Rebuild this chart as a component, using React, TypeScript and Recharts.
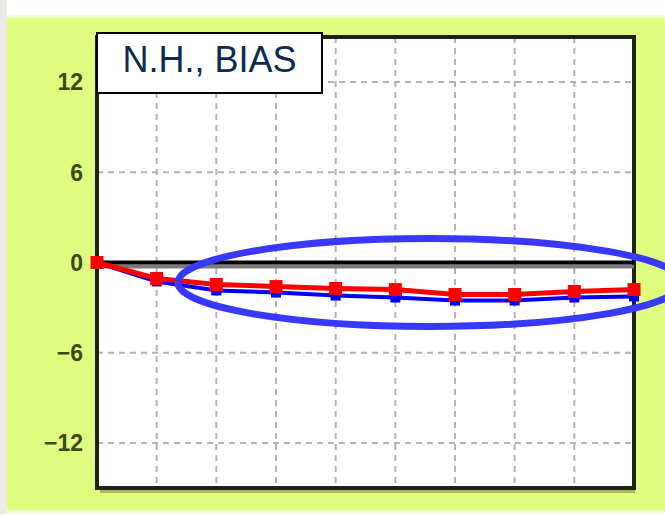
import * as React from 'react'
import { LineChart, Line, XAxis, YAxis, CartesianGrid, ReferenceLine, ReferenceArea, ReferenceDot } from 'recharts'

// forecast step (x) and bias values
const steps = [0, 1, 2, 3, 4, 5, 6, 7, 8, 9]
const redBias = [0, -1.06, -1.46, -1.6, -1.73, -1.8, -2.13, -2.13, -1.93, -1.8]
const blueBias = [0, -1.26, -1.86, -2.0, -2.2, -2.33, -2.53, -2.53, -2.33, -2.26]
const yTicks = [-12, -6, 0, 6, 12]
const panelTitle = 'N.H., BIAS'
const highlightCenter = { x: 5.58, y: -1.33 }

const data = steps.map((s, i) => ({ step: s, red: redBias[i], blue: blueBias[i] }))

const squareDot = (size: number, color: string) => (props: any) => {
  const { cx, cy, index } = props
  if (cx == null || cy == null) return <g key={index} />
  return <rect key={index} x={cx - size / 2} y={cy - size / 2} width={size} height={size} fill={color} />
}

const fmt = (v: number) => (v < 0 ? `\u2212${Math.abs(v)}` : `${v}`)

const YTick = (props: any) => {
  const { x, y, payload } = props
  return (
    <text
      x={x}
      y={y}
      dy="0.36em"
      textAnchor="end"
      fill="#3a4a12"
      fontSize={23}
      fontWeight="bold"
      fontFamily="'Liberation Sans', Arial, sans-serif"
    >
      {fmt(payload.value)}
    </text>
  )
}

// vertical grid at every step, placed through the plot offset
const verticalGrid = ({ offset }: any) =>
  steps.map((s) => offset.left + (s / steps[steps.length - 1]) * offset.width)

export default function App() {
  return (
    <div style={{ position: 'absolute', left: 0, top: 0, width: 665, height: 514, background: '#ecebe3', overflow: 'hidden' }}>
      <div style={{ position: 'absolute', left: 7, top: 0, width: 658, height: 15, background: '#ffffff' }} />
      <div style={{ position: 'absolute', left: 7, top: 15, width: 658, height: 3, background: '#f4fbd2' }} />
      <div style={{ position: 'absolute', left: 7, top: 18, width: 658, height: 492, background: '#e0fd7f' }} />
      <div style={{ position: 'absolute', left: 7, top: 510, width: 658, height: 4, background: '#f6fbe0' }} />
      {/* shadow under the plot frame */}
      <div style={{ position: 'absolute', left: 100, top: 489, width: 535, height: 4, background: '#a6b85c' }} />

      <div style={{ position: 'absolute', left: 0, top: 0 }}>
        <LineChart width={665} height={514} data={data} margin={{ top: 37, right: 31, bottom: 26, left: 7 }}>
          <CartesianGrid
            fill="#ffffff"
            fillOpacity={1}
            stroke="#b3b3b3"
            strokeWidth={2}
            strokeDasharray="6 5"
            verticalCoordinatesGenerator={verticalGrid}
          />
          <XAxis
            dataKey="step"
            type="number"
            domain={[0, 9]}
            ticks={steps}
            height={0}
            tick={false}
            tickLine={false}
            axisLine={false}
          />
          <YAxis
            type="number"
            domain={[-15, 15]}
            ticks={yTicks}
            width={90}
            tickSize={0}
            tickMargin={14}
            axisLine={false}
            tickLine={false}
            tick={<YTick />}
          />
          <ReferenceLine y={-0.27} stroke="#7a7a7a" strokeWidth={4} />
          <ReferenceLine y={0} stroke="#000000" strokeWidth={4} />
          <ReferenceArea x1={0} x2={9} y1={-15} y2={15} fill="none" stroke="#1e2410" strokeWidth={4} />
          <Line
            dataKey="blue"
            stroke="#0000ff"
            strokeWidth={4}
            dot={squareDot(10, '#0000ff')}
            isAnimationActive={false}
          />
          <Line
            dataKey="red"
            stroke="#ff0000"
            strokeWidth={5}
            dot={squareDot(13, '#ff0000')}
            isAnimationActive={false}
          />
          <ReferenceDot
            x={highlightCenter.x}
            y={highlightCenter.y}
            ifOverflow="visible"
            shape={(p: any) => (
              <ellipse cx={p.cx} cy={p.cy} rx={252} ry={44} fill="none" stroke="#3838ff" strokeWidth={7} />
            )}
          />
        </LineChart>
      </div>

      <div
        style={{
          position: 'absolute',
          left: 96,
          top: 32,
          width: 223,
          border: '2px solid #000',
          background: '#fff',
          color: '#0b2b52',
          fontFamily: "'Liberation Sans', Arial, sans-serif",
          fontSize: 36,
          lineHeight: '36px',
          textAlign: 'center',
          paddingTop: 7.5,
          boxSizing: 'content-box',
          height: 50.5,
        }}
      >
        {panelTitle}
      </div>
    </div>
  )
}
